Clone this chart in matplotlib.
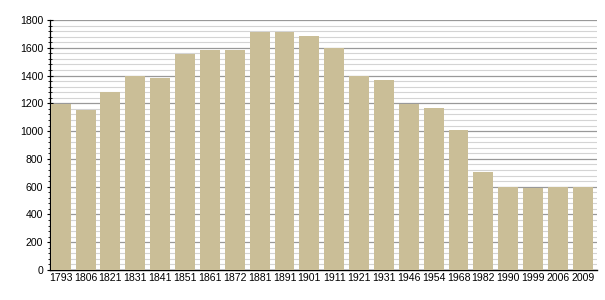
import numpy as np
import matplotlib.pyplot as plt
from matplotlib.ticker import MultipleLocator

years = ['1793', '1806', '1821', '1831', '1841', '1851', '1861', '1872', '1881', '1891', '1901',
         '1911', '1921', '1931', '1946', '1954', '1968', '1982', '1990', '1999', '2006', '2009']
population = [1195, 1150, 1283, 1398, 1382, 1557, 1586, 1584, 1716, 1712, 1688,
              1595, 1397, 1370, 1195, 1167, 1010, 705, 596, 594, 595, 596]

bar_color = '#CABE97'

plt.rcParams['font.family'] = ['Liberation Sans', 'DejaVu Sans']

fig = plt.figure(figsize=(6.05, 3.0), dpi=100)
ax = fig.add_axes([50 / 605, 30 / 300, 547 / 605, 250 / 300])

x = np.arange(len(years)) + 0.43
ax.bar(x, population, width=0.8, color=bar_color, zorder=3)

ax.set_xlim(0, len(years))
ax.set_ylim(0, 1800)
ax.set_xticks(x)
ax.set_xticklabels(years, fontsize=7.6)
ax.tick_params(axis='x', length=0, pad=2)

ax.yaxis.set_major_locator(MultipleLocator(200))
ax.yaxis.set_minor_locator(MultipleLocator(40))
ax.tick_params(axis='y', which='major', length=4, width=0.8, labelsize=7.6, pad=3, direction='inout')
ax.tick_params(axis='y', which='minor', length=2.5, width=0.6, direction='inout')
ax.grid(axis='y', which='major', color='#999999', linewidth=0.9, zorder=0)
ax.grid(axis='y', which='minor', color='#d4d4d4', linewidth=0.8, zorder=0)

for s in ['top', 'right']:
    ax.spines[s].set_visible(False)
ax.spines['left'].set_linewidth(0.9)
ax.spines['bottom'].set_linewidth(1.0)

fig.savefig('out.png', dpi=100)
